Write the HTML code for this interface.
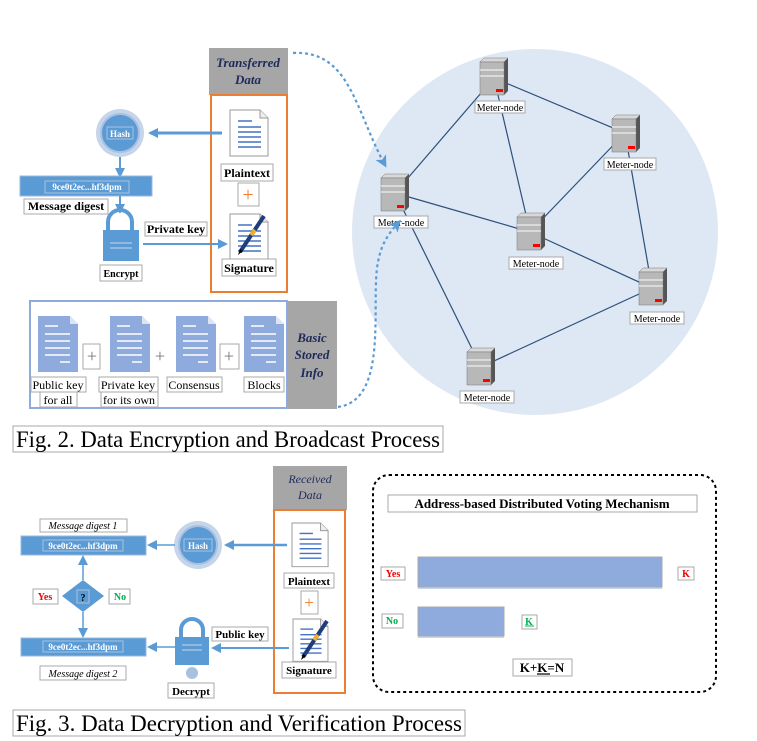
<!DOCTYPE html>
<html><head><meta charset="utf-8"><style>
html,body{margin:0;padding:0;background:#fff}
svg{display:block}
text{font-family:"Liberation Serif",serif}
.b{font-weight:bold}
.lb{fill:#fff;stroke:#aaa;stroke-width:1}
</style></head><body>
<svg width="757" height="741" viewBox="0 0 757 741" xmlns="http://www.w3.org/2000/svg">
<defs>
<marker id="ar" markerWidth="10" markerHeight="10" refX="8" refY="5" orient="auto" markerUnits="userSpaceOnUse">
<path d="M0,0 L10,5 L0,10 Z" fill="#5b9bd5"/></marker>
<marker id="ad" markerWidth="12" markerHeight="12" refX="9" refY="6" orient="auto" markerUnits="userSpaceOnUse">
<path d="M0,0 L12,6 L0,12 L3,6Z" fill="#5b9bd5"/></marker>
<g id="srv">
<path d="M0,4 L4,0 L28,0 L24,4Z" fill="#d8d8d8" stroke="#777" stroke-width="0.5"/>
<path d="M24,4 L28,0 L28,33 L24,37Z" fill="#555"/>
<rect x="0" y="4" width="24" height="33" fill="#b8b8b8" stroke="#777" stroke-width="0.5"/>
<line x1="0" y1="12" x2="24" y2="12" stroke="#eee" stroke-width="1.2"/>
<line x1="0" y1="18" x2="24" y2="18" stroke="#eee" stroke-width="1.2"/>
<rect x="16" y="31" width="7" height="3" fill="#f00"/>
</g>
<g id="doc">
<path d="M0,0 L30,0 L38,8 L38,46 L0,46Z" fill="#fff" stroke="#999" stroke-width="1"/>
<path d="M30,0 L30,8 L38,8" fill="#eee" stroke="#999" stroke-width="1"/>
<g stroke="#4472c4" stroke-width="1.5"><line x1="8" y1="11" x2="22" y2="11"/><line x1="8" y1="17" x2="31" y2="17"/><line x1="8" y1="22" x2="31" y2="22"/><line x1="8" y1="27" x2="31" y2="27"/><line x1="8" y1="32" x2="31" y2="32"/><line x1="8" y1="37" x2="31" y2="37"/></g>
</g>
<g id="bdoc">
<path d="M0,0 L32,0 L40,8 L40,56 L0,56Z" fill="#8faadc"/>
<path d="M32,0 L32,8 L40,8Z" fill="#dde4f4"/>
<g stroke="#fff" stroke-width="1.5"><line x1="7" y1="10" x2="20" y2="10"/><line x1="7" y1="18" x2="32" y2="18"/><line x1="7" y1="25" x2="32" y2="25"/><line x1="7" y1="32" x2="32" y2="32"/><line x1="7" y1="39" x2="32" y2="39"/><line x1="22" y1="46" x2="32" y2="46"/></g>
</g>
<g id="pen"><line x1="10" y1="40" x2="34" y2="4" stroke="#1f3d7a" stroke-width="4"/><line x1="21" y1="23" x2="25" y2="18" stroke="#f0b030" stroke-width="4"/><path d="M8,43 L10,37 L13,39Z" fill="#000"/></g>
</defs>

<circle cx="535" cy="232" r="183" fill="#dde8f4"/>
<g stroke="#2f4f7a" stroke-width="1.2">
<line x1="494" y1="78" x2="625" y2="133"/>
<line x1="494" y1="78" x2="530" y2="232"/>
<line x1="494" y1="78" x2="395" y2="193"/>
<line x1="395" y1="193" x2="530" y2="232"/>
<line x1="395" y1="193" x2="481" y2="367"/>
<line x1="530" y1="232" x2="625" y2="133"/>
<line x1="530" y1="232" x2="652" y2="288"/>
<line x1="625" y1="133" x2="652" y2="288"/>
<line x1="481" y1="367" x2="652" y2="288"/>
</g>
<g>
<use href="#srv" x="480" y="58"/><use href="#srv" x="612" y="115"/><use href="#srv" x="381" y="174"/>
<use href="#srv" x="517" y="213"/><use href="#srv" x="639" y="268"/><use href="#srv" x="467" y="348"/>
</g>
<g font-size="10">
<rect class="lb" x="475" y="101" width="50" height="12"/><text x="500" y="111" text-anchor="middle">Meter-node</text>
<rect class="lb" x="604" y="158" width="52" height="12"/><text x="630" y="168" text-anchor="middle">Meter-node</text>
<rect class="lb" x="374" y="216" width="54" height="12"/><text x="401" y="226" text-anchor="middle">Meter-node</text>
<rect class="lb" x="509" y="257" width="54" height="12"/><text x="536" y="267" text-anchor="middle">Meter-node</text>
<rect class="lb" x="630" y="312" width="54" height="12"/><text x="657" y="322" text-anchor="middle">Meter-node</text>
<rect class="lb" x="460" y="391" width="54" height="12"/><text x="487" y="401" text-anchor="middle">Meter-node</text>
</g>
<path d="M293,53 C350,50 355,110 385,165" fill="none" stroke="#5b9bd5" stroke-width="2.2" stroke-dasharray="3,3" marker-end="url(#ad)"/>
<path d="M338,407 C390,400 370,300 378,262 C382,240 392,230 399,222" fill="none" stroke="#5b9bd5" stroke-width="2.2" stroke-dasharray="3,3" marker-end="url(#ad)"/>

<rect x="209" y="48" width="79" height="47" fill="#a6a6a6"/>
<text x="248" y="67" text-anchor="middle" font-size="13" font-style="italic" font-weight="bold" fill="#1f2a5a">Transferred</text>
<text x="248" y="84" text-anchor="middle" font-size="13" font-style="italic" font-weight="bold" fill="#1f2a5a">Data</text>
<rect x="211" y="95" width="76" height="197" fill="#fff" stroke="#ed7d31" stroke-width="2"/>
<use href="#doc" x="230" y="110"/>
<rect class="lb" x="221" y="164" width="52" height="17"/><text x="247" y="177" text-anchor="middle" font-size="12" class="b">Plaintext</text>
<rect class="lb" x="238" y="183" width="21" height="23"/><text x="248" y="201" text-anchor="middle" font-size="20" fill="#ed7d31">+</text>
<use href="#doc" x="230" y="214"/><use href="#pen" x="230" y="212"/>
<rect class="lb" x="222" y="259" width="54" height="17"/><text x="249" y="272" text-anchor="middle" font-size="12" class="b">Signature</text>

<line x1="222" y1="133" x2="150" y2="133" stroke="#5b9bd5" stroke-width="3" marker-end="url(#ar)"/>
<circle cx="120" cy="133" r="24" fill="#c5d5ea"/><circle cx="120" cy="133" r="19" fill="#5b9bd5" stroke="#a9c0e0" stroke-width="2"/>
<rect x="107" y="127" width="26" height="12" fill="none" stroke="#a9c0e0"/><text x="120" y="137" text-anchor="middle" font-size="9" class="b" fill="#fff">Hash</text>
<line x1="120" y1="157" x2="120" y2="176" stroke="#5b9bd5" stroke-width="2" marker-end="url(#ar)"/>
<rect x="20" y="176" width="132" height="20" fill="#5b9bd5" stroke="#9ab8dd"/>
<rect x="45" y="181" width="84" height="12" fill="none" stroke="#a9c0e0"/><text x="87" y="190" text-anchor="middle" font-size="9" class="b" fill="#fff">9ce0t2ec...hf3dpm</text>
<rect class="lb" x="24" y="199" width="84" height="15"/><text x="66" y="210" text-anchor="middle" font-size="12" class="b">Message digest</text>
<line x1="120" y1="196" x2="120" y2="212" stroke="#5b9bd5" stroke-width="2" marker-end="url(#ar)"/>
<path d="M108,230 V222 a12,12 0 0 1 24,0 V230" fill="none" stroke="#5b9bd5" stroke-width="4"/>
<rect x="103" y="230" width="36" height="31" fill="#5b9bd5"/>
<line x1="110" y1="243" x2="132" y2="243" stroke="#c5d5ea"/><line x1="110" y1="248" x2="132" y2="248" stroke="#c5d5ea"/>
<rect class="lb" x="100" y="265" width="42" height="16"/><text x="121" y="277" text-anchor="middle" font-size="10" class="b">Encrypt</text>
<rect class="lb" x="145" y="222" width="62" height="14"/><text x="176" y="233" text-anchor="middle" font-size="12" class="b">Private key</text>
<line x1="143" y1="244" x2="226" y2="244" stroke="#5b9bd5" stroke-width="2" marker-end="url(#ar)"/>

<rect x="30" y="301" width="257" height="107" fill="#fff" stroke="#8faadc" stroke-width="2"/>
<rect x="287" y="301" width="50" height="108" fill="#a6a6a6"/>
<g font-size="13" font-style="italic" font-weight="bold" fill="#1f2a5a" text-anchor="middle">
<text x="312" y="342">Basic</text><text x="312" y="359">Stored</text><text x="312" y="377">Info</text></g>
<use href="#bdoc" x="38" y="316"/><use href="#bdoc" x="110" y="316"/><use href="#bdoc" x="176" y="316"/><use href="#bdoc" x="244" y="316"/>
<rect class="lb" x="83" y="344" width="17" height="25"/><text x="92" y="362" text-anchor="middle" font-size="18" fill="#777">+</text>
<text x="160" y="362" text-anchor="middle" font-size="18" fill="#777">+</text>
<rect class="lb" x="220" y="344" width="19" height="25"/><text x="229" y="362" text-anchor="middle" font-size="18" fill="#777">+</text>
<g font-size="12">
<rect class="lb" x="31" y="377" width="55" height="15"/><text x="58" y="389" text-anchor="middle">Public key</text>
<rect class="lb" x="40" y="392" width="37" height="15"/><text x="58" y="404" text-anchor="middle">for all</text>
<rect class="lb" x="99" y="377" width="59" height="15"/><text x="128" y="389" text-anchor="middle">Private key</text>
<rect class="lb" x="101" y="392" width="57" height="15"/><text x="129" y="404" text-anchor="middle">for its own</text>
<rect class="lb" x="167" y="377" width="55" height="15"/><text x="194" y="389" text-anchor="middle">Consensus</text>
<rect class="lb" x="244" y="377" width="40" height="15"/><text x="264" y="389" text-anchor="middle">Blocks</text>
</g>
<rect class="lb" x="13" y="426" width="430" height="26"/>
<text x="16" y="447" font-size="23" textLength="424" lengthAdjust="spacingAndGlyphs">Fig. 2. Data Encryption and Broadcast Process</text>

<rect x="273" y="466" width="74" height="44" fill="#a6a6a6"/>
<text x="310" y="483" text-anchor="middle" font-size="12" font-style="italic" fill="#1f2a5a">Received</text>
<text x="310" y="499" text-anchor="middle" font-size="12" font-style="italic" fill="#1f2a5a">Data</text>
<rect x="274" y="510" width="71" height="183" fill="#fff" stroke="#ed7d31" stroke-width="2"/>
<use href="#doc" x="292" y="523" transform="translate(292,523) scale(0.95) translate(-292,-523)"/>
<rect class="lb" x="284" y="573" width="50" height="15"/><text x="309" y="585" text-anchor="middle" font-size="11" class="b">Plaintext</text>
<rect class="lb" x="301" y="591" width="17" height="23"/><text x="309" y="608" text-anchor="middle" font-size="17" fill="#ed7d31">+</text>
<use href="#doc" x="293" y="619" transform="translate(293,619) scale(0.92) translate(-293,-619)"/><use href="#pen" x="293" y="617"/>
<rect class="lb" x="282" y="662" width="54" height="16"/><text x="309" y="674" text-anchor="middle" font-size="11" class="b">Signature</text>

<line x1="287" y1="545" x2="226" y2="545" stroke="#5b9bd5" stroke-width="2.5" marker-end="url(#ar)"/>
<circle cx="198" cy="545" r="24" fill="#c5d5ea"/><circle cx="198" cy="545" r="19" fill="#5b9bd5" stroke="#a9c0e0" stroke-width="2"/>
<rect x="184" y="539" width="28" height="12" fill="none" stroke="#a9c0e0"/><text x="198" y="549" text-anchor="middle" font-size="9" class="b" fill="#fff">Hash</text>
<line x1="175" y1="545" x2="149" y2="545" stroke="#5b9bd5" stroke-width="1.5" marker-end="url(#ar)"/>
<rect class="lb" x="40" y="519" width="87" height="13"/><text x="83" y="529" text-anchor="middle" font-size="10" font-style="italic">Message digest 1</text>
<rect x="21" y="536" width="125" height="19" fill="#5b9bd5" stroke="#9ab8dd"/>
<rect x="43" y="540" width="80" height="11" fill="none" stroke="#a9c0e0"/><text x="83" y="549" text-anchor="middle" font-size="9" class="b" fill="#fff">9ce0t2ec...hf3dpm</text>
<line x1="83" y1="580" x2="83" y2="557" stroke="#5b9bd5" stroke-width="1.5" marker-end="url(#ar)"/>
<line x1="83" y1="612" x2="83" y2="636" stroke="#5b9bd5" stroke-width="1.5" marker-end="url(#ar)"/>
<path d="M83,580 L104,596 L83,612 L62,596Z" fill="#5b9bd5"/>
<rect x="77" y="590" width="12" height="13" fill="none" stroke="#a9c0e0"/><text x="83" y="601" text-anchor="middle" font-size="10" class="b">?</text>
<rect class="lb" x="33" y="589" width="25" height="15"/><text x="45" y="600" text-anchor="middle" font-size="10" class="b" fill="#e00">Yes</text>
<rect class="lb" x="109" y="589" width="21" height="15"/><text x="120" y="600" text-anchor="middle" font-size="10" class="b" fill="#00b050">No</text>
<rect x="21" y="638" width="125" height="18" fill="#5b9bd5" stroke="#9ab8dd"/>
<rect x="43" y="641" width="80" height="11" fill="none" stroke="#a9c0e0"/><text x="83" y="650" text-anchor="middle" font-size="9" class="b" fill="#fff">9ce0t2ec...hf3dpm</text>
<rect class="lb" x="40" y="666" width="86" height="14"/><text x="83" y="677" text-anchor="middle" font-size="10" font-style="italic">Message digest 2</text>
<path d="M181,637 V630 a11,11 0 0 1 22,0 V637" fill="none" stroke="#5b9bd5" stroke-width="4"/>
<rect x="175" y="637" width="34" height="28" fill="#5b9bd5"/>
<line x1="182" y1="645" x2="202" y2="645" stroke="#c5d5ea"/><line x1="182" y1="650" x2="202" y2="650" stroke="#c5d5ea"/>
<circle cx="192" cy="673" r="6" fill="#a9c0e0"/>
<rect class="lb" x="168" y="683" width="46" height="15"/><text x="191" y="695" text-anchor="middle" font-size="11" class="b">Decrypt</text>
<rect class="lb" x="212" y="627" width="56" height="14"/><text x="240" y="638" text-anchor="middle" font-size="11" class="b">Public key</text>
<line x1="289" y1="648" x2="213" y2="648" stroke="#5b9bd5" stroke-width="2" marker-end="url(#ar)"/>
<line x1="175" y1="647" x2="149" y2="647" stroke="#5b9bd5" stroke-width="1.5" marker-end="url(#ar)"/>

<rect x="373" y="475" width="343" height="217" rx="16" fill="none" stroke="#000" stroke-width="2" stroke-dasharray="3,3"/>
<rect class="lb" x="388" y="495" width="309" height="17"/><text x="542" y="508" text-anchor="middle" font-size="13" class="b">Address-based Distributed Voting Mechanism</text>
<rect class="lb" x="381" y="567" width="24" height="13"/><text x="393" y="577" text-anchor="middle" font-size="10" class="b" fill="#e00">Yes</text>
<rect x="418" y="587" width="244" height="2" fill="#c5d5ea"/>
<rect x="418" y="557" width="244" height="30" fill="#8faadc" stroke="#aaa"/>
<rect class="lb" x="678" y="567" width="16" height="13"/><text x="686" y="577" text-anchor="middle" font-size="10" class="b" fill="#e00">K</text>
<rect class="lb" x="382" y="614" width="21" height="14"/><text x="392" y="624" text-anchor="middle" font-size="10" class="b" fill="#00b050">No</text>
<rect x="418" y="636" width="86" height="2" fill="#c5d5ea"/>
<rect x="418" y="607" width="86" height="29" fill="#8faadc" stroke="#aaa"/>
<rect class="lb" x="522" y="615" width="15" height="14"/><text x="529" y="625" text-anchor="middle" font-size="10" class="b" fill="#00b050">K</text>
<line x1="525" y1="626" x2="534" y2="626" stroke="#00b050"/>
<rect class="lb" x="513" y="659" width="59" height="17"/><text x="542" y="672" text-anchor="middle" font-size="13" class="b">K+K=N</text>
<line x1="537" y1="674" x2="550" y2="674" stroke="#000" stroke-width="1.2"/>

<rect class="lb" x="13" y="710" width="452" height="26"/>
<text x="16" y="731" font-size="23" textLength="446" lengthAdjust="spacingAndGlyphs">Fig. 3. Data Decryption and Verification Process</text>
</svg>
</body></html>
